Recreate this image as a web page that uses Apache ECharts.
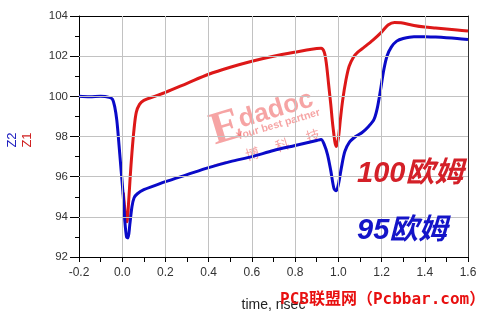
<!DOCTYPE html>
<html>
<head>
<meta charset="utf-8">
<script src="https://cdn.jsdelivr.net/npm/echarts@6/dist/echarts.min.js"></script>
<style>html,body{margin:0;padding:0;background:#fff;}#c{width:483px;height:317px;}</style>
</head>
<body>
<div id="c"></div>
<script>
const z2Time = [-0.2,-0.15,-0.1,-0.06,-0.045,-0.035,-0.025,-0.015,-0.005,0.005,0.012,0.02,0.027,0.035,0.045,0.055,0.07,0.1,0.15,0.2,0.3,0.4,0.5,0.6,0.7,0.8,0.9,0.92,0.935,0.95,0.965,0.98,0.99,1.0,1.015,1.03,1.05,1.08,1.11,1.14,1.165,1.18,1.195,1.21,1.225,1.245,1.27,1.3,1.35,1.4,1.45,1.5,1.55,1.6];
const z2Values = [100.0,99.98,100.0,99.95,99.85,99.5,98.8,97.6,96.3,95.0,93.8,93.0,92.95,93.6,94.5,94.95,95.15,95.35,95.55,95.75,96.1,96.45,96.75,97.0,97.3,97.55,97.8,97.85,97.6,97.1,96.3,95.4,95.3,95.6,96.5,97.25,97.7,98.0,98.2,98.5,98.85,99.4,100.3,101.3,102.0,102.45,102.75,102.88,102.97,102.97,102.95,102.92,102.88,102.83];
// Z1 before t≈0 lies exactly under Z2 and is not visible in the source
const z1Time = [0.005,0.015,0.022,0.03,0.037,0.045,0.055,0.065,0.08,0.1,0.15,0.2,0.3,0.4,0.5,0.6,0.7,0.8,0.9,0.92,0.935,0.945,0.955,0.965,0.975,0.99,1.0,1.01,1.02,1.035,1.05,1.07,1.09,1.12,1.16,1.2,1.23,1.26,1.29,1.35,1.4,1.45,1.5,1.55,1.6];
const z1Values = [95.2,94.1,93.75,94.8,96.0,97.2,98.4,99.2,99.6,99.8,100.0,100.2,100.65,101.1,101.45,101.75,102.0,102.2,102.38,102.4,102.2,101.6,100.6,99.6,98.5,97.5,97.9,98.9,99.8,100.8,101.5,101.95,102.2,102.45,102.8,103.2,103.55,103.68,103.66,103.53,103.45,103.4,103.35,103.3,103.25];
const xTickValues = [-0.2,0.0,0.2,0.4,0.6,0.8,1.0,1.2,1.4,1.6];
const yTickValues = [92,94,96,98,100,102,104];
const xAxisTitle = 'time, nsec';
const yNames = ['Z2','Z1'];
const labels = ['100欧姆','95欧姆'];

const zip = (a,b) => a.map((t,i)=>[t,b[i]]);
const chart = echarts.init(document.getElementById('c'), null, {renderer:'canvas'});
const axisLabelStyle = {color:'#333', fontFamily:'Liberation Sans, Arial, sans-serif'};
const xMin = xTickValues[0], xMax = xTickValues[xTickValues.length-1];
const yMin = yTickValues[0], yMax = yTickValues[yTickValues.length-1];
const wm = 'rgba(238,90,90,0.55)';
const gridMarks = xTickValues.slice(1,-1).map(v=>({xAxis:v})).concat(yTickValues.slice(1,-1).map(v=>({yAxis:v})));
chart.setOption({
  animation:false,
  grid:{left:79,right:15,top:16,bottom:54,show:false},
  xAxis:[{
    type:'value', min:xMin, max:xMax, interval:0.2,
    name:xAxisTitle, nameLocation:'middle', nameGap:41,
    nameTextStyle:{color:'#222',fontSize:14,fontFamily:'Liberation Sans, Arial, sans-serif'},
    axisLine:{onZero:false,lineStyle:{color:'#000',width:1}},
    axisTick:{show:true,length:5,lineStyle:{color:'#000'}},
    minorTick:{show:true,splitNumber:2,length:5,lineStyle:{color:'#000'}},
    splitLine:{show:false},
    axisLabel:Object.assign({fontSize:12,margin:10,formatter:v=>v.toFixed(1)},axisLabelStyle)
  },{
    type:'value', position:'top', min:xMin, max:xMax, interval:0.2,
    axisLine:{show:true,onZero:false,lineStyle:{color:'#000',width:1}},
    axisTick:{show:false}, axisLabel:{show:false}, splitLine:{show:false}
  }],
  yAxis:[{
    type:'value', min:yMin, max:yMax, interval:2,
    axisLine:{show:true,onZero:false,lineStyle:{color:'#000',width:1}},
    axisTick:{show:true,length:9,lineStyle:{color:'#000'}},
    minorTick:{show:true,splitNumber:2,length:4,lineStyle:{color:'#000'}},
    splitLine:{show:false},
    axisLabel:Object.assign({fontSize:11.5,margin:11},axisLabelStyle)
  },{
    type:'value', position:'right', min:yMin, max:yMax, interval:2,
    axisLine:{show:true,onZero:false,lineStyle:{color:'#333',width:1}},
    axisTick:{show:false}, axisLabel:{show:false}, splitLine:{show:false}
  }],
  series:[
    {name:'grid',type:'line',xAxisIndex:0,yAxisIndex:0,data:[],z:1,silent:true,
     markLine:{silent:true,symbol:['none','none'],label:{show:false},animation:false,
       lineStyle:{color:'#c2c2c2',width:1,type:'solid'},emphasis:{disabled:true},data:gridMarks}},
    {name:'Z1',type:'line',xAxisIndex:0,yAxisIndex:0,data:zip(z1Time,z1Values),showSymbol:false,smooth:0.3,
     lineStyle:{color:'#dd1818',width:3},itemStyle:{color:'#dd1818'},z:2},
    {name:'Z2',type:'line',xAxisIndex:0,yAxisIndex:0,data:zip(z2Time,z2Values),showSymbol:false,smooth:0.3,
     lineStyle:{color:'#0a0ac8',width:3},itemStyle:{color:'#0a0ac8'},z:3}
  ],
  graphic:[
    {type:'text',x:12,y:140,rotation:Math.PI/2,style:{text:yNames[0],fill:'#2020c0',font:'13px Liberation Sans, Arial',align:'center',verticalAlign:'middle'}},
    {type:'text',x:27.5,y:140,rotation:Math.PI/2,style:{text:yNames[1],fill:'#d02020',font:'13px Liberation Sans, Arial',align:'center',verticalAlign:'middle'}},
    {type:'group',x:270,y:125,rotation:0.29,z:10,children:[
      {type:'text',x:-43,y:-9,style:{text:'E',fill:wm,font:'bold 46px Liberation Serif, serif',align:'center',verticalAlign:'middle'}},
      {type:'text',x:10,y:-13,style:{text:'dadoc',fill:wm,font:'bold 26px Liberation Sans, Arial',align:'center',verticalAlign:'middle'}},
      {type:'text',x:8,y:2,style:{text:'Your best partner',fill:wm,font:'bold 10.5px Liberation Sans, Arial',align:'center',verticalAlign:'middle'}},
      {type:'text',x:-59,y:22.5,style:{text:'一',fill:wm,font:'14px Noto Sans CJK SC',align:'center',verticalAlign:'middle'}},
      {type:'text',x:-25,y:22.5,style:{text:'博',fill:wm,font:'14px Noto Sans CJK SC',align:'center',verticalAlign:'middle'}},
      {type:'text',x:6,y:22.5,style:{text:'科',fill:wm,font:'14px Noto Sans CJK SC',align:'center',verticalAlign:'middle'}},
      {type:'text',x:38,y:22.5,style:{text:'技',fill:wm,font:'14px Noto Sans CJK SC',align:'center',verticalAlign:'middle'}}
    ]},
    {type:'text',x:357,y:174,z:10,style:{text:labels[0],fill:'#d42028',font:'italic bold 29px Liberation Sans, Noto Sans CJK SC',align:'left',verticalAlign:'middle'}},
    {type:'text',x:357,y:231,z:10,style:{text:labels[1],fill:'#1414c8',font:'italic bold 29px Liberation Sans, Noto Sans CJK SC',align:'left',verticalAlign:'middle'}},
    {type:'text',x:280,y:300,z:10,style:{text:'PCB联盟网（Pcbbar.com）',fill:'#e81010',font:'bold 16px DejaVu Sans Mono, Noto Sans CJK SC',align:'left',verticalAlign:'middle'}}
  ]
});
</script>
</body>
</html>
